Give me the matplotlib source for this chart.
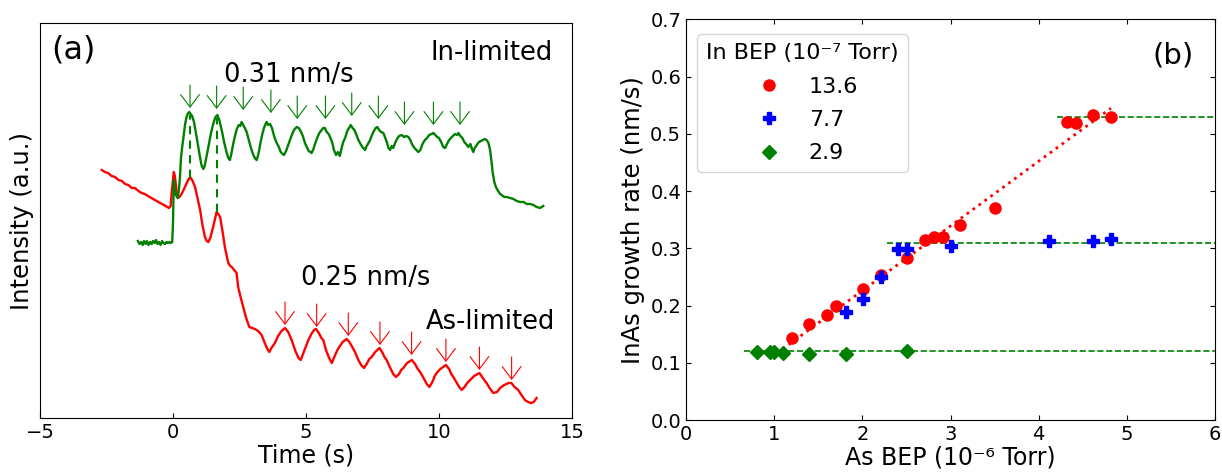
import matplotlib
matplotlib.use("Agg")
import matplotlib.pyplot as plt
import numpy as np

plt.rcParams['font.family'] = ['DejaVu Sans']

# ---------------- Panel (a) data: RHEED intensity traces ----------------
green_t = [-1.32, -1.26, -1.20, -1.14, -1.09, -1.03, -0.98, -0.92, -0.86, -0.80, -0.75, -0.69,
           -0.64, -0.58, -0.53, -0.47, -0.41, -0.36, -0.30, -0.24, -0.19, -0.13, -0.08, -0.03,
           0.00, 0.03, 0.08, 0.13, 0.18, 0.22, 0.26, 0.30, 0.35, 0.40, 0.45, 0.50, 0.55, 0.61,
           0.66, 0.72, 0.79, 0.85, 0.92, 1.00, 1.07, 1.14, 1.19, 1.25, 1.33, 1.42, 1.52, 1.60,
           1.67, 1.74, 1.83, 1.92, 2.02, 2.08, 2.14, 2.20, 2.27, 2.33, 2.40, 2.47, 2.53, 2.58,
           2.64, 2.70, 2.77, 2.85, 2.93, 3.02, 3.10, 3.15, 3.22, 3.28, 3.35, 3.42, 3.48, 3.52,
           3.58, 3.65, 3.72, 3.80, 3.88, 3.96, 4.05, 4.12, 4.17, 4.25, 4.33, 4.40, 4.48, 4.55,
           4.65, 4.73, 4.80, 4.88, 4.96, 5.03, 5.10, 5.16, 5.21, 5.28, 5.35, 5.42, 5.50, 5.59,
           5.65, 5.71, 5.78, 5.85, 5.92, 5.98, 6.05, 6.13, 6.20, 6.27, 6.34, 6.40, 6.47, 6.55,
           6.62, 6.68, 6.75, 6.82, 6.90, 6.97, 7.05, 7.12, 7.22, 7.28, 7.35, 7.41, 7.48, 7.55,
           7.62, 7.68, 7.75, 7.82, 7.91, 7.98, 8.05, 8.10, 8.16, 8.22, 8.28, 8.35, 8.42, 8.50,
           8.60, 8.68, 8.76, 8.85, 8.92, 9.00, 9.08, 9.15, 9.22, 9.30, 9.38, 9.47, 9.55, 9.63,
           9.72, 9.79, 9.86, 9.93, 10.00, 10.08, 10.16, 10.23, 10.30, 10.38, 10.45, 10.52,
           10.60, 10.68, 10.73, 10.80, 10.88, 10.95, 11.02, 11.10, 11.18, 11.24, 11.29, 11.34,
           11.42, 11.50, 11.58, 11.65, 11.72, 11.79, 11.86, 11.92, 11.98, 12.02, 12.08, 12.14,
           12.22, 12.30, 12.36, 12.45, 12.55, 12.67, 12.80, 12.92, 13.05, 13.18, 13.30, 13.42,
           13.55, 13.67, 13.80, 13.92]
green_I = [1.77, 1.74, 1.76, 1.73, 1.77, 1.74, 1.77, 1.73, 1.76, 1.74, 1.77, 1.75,
           1.78, 1.74, 1.76, 1.73, 1.77, 1.75, 1.74, 1.76, 1.75, 1.76, 1.75, 1.76,
           1.95, 2.38, 2.25, 2.22, 2.20, 2.28, 2.40, 2.60, 2.72, 2.82, 2.93, 3.00, 3.04, 3.06,
           3.04, 3.02, 2.96, 2.87, 2.76, 2.63, 2.53, 2.49, 2.52, 2.60, 2.71, 2.84, 2.95, 3.01,
           3.03, 2.98, 2.88, 2.76, 2.65, 2.60, 2.58, 2.65, 2.75, 2.82, 2.89, 2.93, 2.92, 2.96,
           2.93, 2.90, 2.86, 2.78, 2.70, 2.63, 2.59, 2.58, 2.65, 2.74, 2.83, 2.90, 2.94, 2.96,
           2.93, 2.94, 2.90, 2.82, 2.76, 2.72, 2.66, 2.64, 2.63, 2.67, 2.73, 2.78, 2.84, 2.88,
           2.91, 2.90, 2.87, 2.82, 2.75, 2.71, 2.67, 2.66, 2.65, 2.69, 2.75, 2.80, 2.85, 2.88,
           2.90, 2.90, 2.86, 2.84, 2.80, 2.76, 2.68, 2.63, 2.66, 2.62, 2.70, 2.76, 2.80, 2.87,
           2.90, 2.93, 2.90, 2.88, 2.83, 2.78, 2.74, 2.71, 2.68, 2.72, 2.75, 2.78, 2.83, 2.87,
           2.90, 2.91, 2.88, 2.86, 2.85, 2.80, 2.75, 2.70, 2.68, 2.72, 2.70, 2.75, 2.79, 2.82,
           2.83, 2.81, 2.82, 2.81, 2.78, 2.73, 2.70, 2.68, 2.66, 2.68, 2.74, 2.78, 2.80, 2.83,
           2.84, 2.85, 2.83, 2.81, 2.80, 2.76, 2.71, 2.70, 2.74, 2.78, 2.80, 2.82,
           2.84, 2.83, 2.85, 2.82, 2.80, 2.76, 2.74, 2.71, 2.74, 2.69, 2.66, 2.70,
           2.73, 2.76, 2.77, 2.78, 2.79, 2.78, 2.75, 2.68, 2.55, 2.45, 2.36, 2.31,
           2.27, 2.24, 2.23, 2.21, 2.21, 2.20, 2.19, 2.17, 2.16, 2.16, 2.14, 2.14,
           2.13, 2.11, 2.10, 2.12]

red_t = [-2.68, -2.56, -2.44, -2.31, -2.18, -2.05, -1.92, -1.80, -1.68, -1.55, -1.43, -1.30,
         -1.18, -1.06, -0.94, -0.81, -0.68, -0.55, -0.41, -0.28, -0.15, -0.09, -0.04, 0.03,
         0.07, 0.10, 0.14, 0.18, 0.24, 0.30, 0.38, 0.45, 0.55, 0.64, 0.72, 0.83, 0.92, 1.02,
         1.10, 1.20, 1.27, 1.33, 1.40, 1.48, 1.55, 1.64, 1.70, 1.77, 1.86, 1.95, 2.02, 2.08,
         2.15, 2.21, 2.30, 2.39, 2.45, 2.55, 2.64, 2.75, 2.87, 2.98, 3.08, 3.20, 3.33, 3.45,
         3.55, 3.62, 3.70, 3.83, 3.95, 4.08, 4.21, 4.33, 4.46, 4.60, 4.72, 4.80, 4.90, 5.00,
         5.09, 5.20, 5.30, 5.38, 5.48, 5.58, 5.65, 5.75, 5.87, 5.97, 6.08, 6.18, 6.25, 6.38,
         6.53, 6.63, 6.74, 6.84, 6.95, 7.07, 7.18, 7.28, 7.38, 7.47, 7.60, 7.76, 7.86, 7.95,
         8.03, 8.15, 8.28, 8.38, 8.50, 8.58, 8.66, 8.80, 8.98, 9.10, 9.20, 9.29, 9.42, 9.54,
         9.64, 9.75, 9.84, 9.91, 10.05, 10.26, 10.38, 10.46, 10.54, 10.65, 10.76, 10.85,
         10.96, 11.06, 11.17, 11.32, 11.52, 11.62, 11.70, 11.79, 11.90, 12.04, 12.18, 12.30,
         12.45, 12.62, 12.72, 12.84, 12.98, 13.10, 13.23, 13.35, 13.45, 13.56, 13.67]
red_I = [2.48, 2.46, 2.45, 2.42, 2.41, 2.38, 2.37, 2.34, 2.33, 2.30, 2.30, 2.27,
         2.25, 2.24, 2.22, 2.20, 2.18, 2.16, 2.14, 2.12, 2.10, 2.12, 2.28, 2.46,
         2.42, 2.35, 2.26, 2.20, 2.21, 2.23, 2.27, 2.31, 2.37, 2.41, 2.38, 2.31, 2.20, 2.08,
         1.94, 1.81, 1.77, 1.76, 1.80, 1.88, 1.96, 2.06, 2.04, 2.01, 1.87, 1.71, 1.62, 1.55,
         1.52, 1.51, 1.48, 1.45, 1.31, 1.20, 1.11, 1.00, 0.91, 0.90, 0.89, 0.87, 0.83, 0.75,
         0.69, 0.66, 0.70, 0.75, 0.82, 0.87, 0.90, 0.86, 0.78, 0.67, 0.60, 0.58, 0.65, 0.72,
         0.78, 0.84, 0.88, 0.89, 0.85, 0.80, 0.78, 0.68, 0.60, 0.55, 0.62, 0.68, 0.71, 0.76,
         0.79, 0.76, 0.71, 0.66, 0.59, 0.53, 0.50, 0.54, 0.59, 0.61, 0.66, 0.70, 0.66, 0.61,
         0.58, 0.51, 0.44, 0.41, 0.44, 0.48, 0.50, 0.55, 0.58, 0.54, 0.49, 0.46, 0.40, 0.34,
         0.31, 0.36, 0.42, 0.45, 0.49, 0.53, 0.49, 0.44, 0.41, 0.36, 0.31, 0.28,
         0.31, 0.35, 0.38, 0.42, 0.45, 0.41, 0.38, 0.35, 0.30, 0.25, 0.26, 0.30,
         0.33, 0.35, 0.35, 0.31, 0.28, 0.23, 0.18, 0.16, 0.15, 0.16, 0.20]

# arrow markers for oscillation maxima (time, tip intensity)
green_arrow_t = [0.64, 1.64, 2.64, 3.68, 4.67, 5.73, 6.72, 7.72, 8.70, 9.79, 10.79]
green_arrow_tip = [3.10, 3.09, 3.08, 3.05, 2.99, 2.99, 3.02, 2.99, 2.93, 2.93, 2.93]
red_arrow_t = [4.21, 5.40, 6.59, 7.78, 8.97, 10.26, 11.52, 12.73]
red_arrow_tip = [0.93, 0.91, 0.82, 0.73, 0.63, 0.56, 0.48, 0.38]
arrow_len = 0.23

# dashed guide lines linking first peaks (time, top intensity, bottom intensity)
guide_t = [0.64, 1.64]
guide_top = [3.03, 3.00]
guide_bottom = [2.40, 2.06]

# ---------------- Panel (b) data: growth rate vs As BEP ----------------
red_x = [1.20, 1.40, 1.60, 1.70, 2.01, 2.21, 2.51, 2.71, 2.81, 2.91, 3.11, 3.51, 4.32, 4.42, 4.62, 4.82]
red_y = [0.143, 0.168, 0.183, 0.200, 0.228, 0.253, 0.283, 0.314, 0.320, 0.320, 0.340, 0.371,
         0.520, 0.518, 0.532, 0.529]
blue_x = [1.81, 2.01, 2.21, 2.41, 2.51, 3.01, 4.12, 4.62, 4.82]
blue_y = [0.189, 0.212, 0.250, 0.298, 0.298, 0.304, 0.313, 0.313, 0.316]
green_x = [0.80, 0.95, 1.00, 1.10, 1.40, 1.81, 2.51]
green_y = [0.118, 0.118, 0.118, 0.117, 0.115, 0.116, 0.120]

series_labels = ['13.6', '7.7', '2.9']

plateau_level = [0.12, 0.31, 0.53]
plateau_start = [0.66, 2.28, 4.21]
fit_slope = 0.113
fit_intercept = 0.0
fit_range = [1.03, 4.82]

# ---------------- Figure ----------------
W, H = 1222, 476
fig = plt.figure(figsize=(W / 100, H / 100), dpi=100)
axa = fig.add_axes([40 / W, 1 - 418 / H, (572 - 40) / W, (418 - 23) / H])
axb = fig.add_axes([686 / W, 1 - 420 / H, (1215 - 686) / W, (420 - 19.3) / H])

# Panel (a)
axa.plot(red_t, red_I, color='red', lw=1.7)
axa.plot(green_t, green_I, color='green', lw=1.7)
for t, top, bot in zip(guide_t, guide_top, guide_bottom):
    axa.plot([t, t], [bot, top], color='green', lw=1.5, ls=(0, (4, 3)))
astyle = '->,head_length=0.6,head_width=0.45'
for t, tip in zip(green_arrow_t, green_arrow_tip):
    axa.annotate('', xy=(t, tip), xytext=(t, tip + arrow_len),
                 arrowprops=dict(arrowstyle=astyle, color='green', lw=0.8,
                                 mutation_scale=15, shrinkA=0, shrinkB=0))
for t, tip in zip(red_arrow_t, red_arrow_tip):
    axa.annotate('', xy=(t, tip), xytext=(t, tip + arrow_len),
                 arrowprops=dict(arrowstyle=astyle, color='red', lw=0.8,
                                 mutation_scale=15, shrinkA=0, shrinkB=0))

axa.text(-3.76, 3.68, '(a)', fontsize=23, ha='center', va='center')
axa.text(14.29, 3.65, 'In-limited', fontsize=18.5, ha='right', va='center')
axa.text(4.36, 3.43, '0.31 nm/s', fontsize=18.5, ha='center', va='center')
axa.text(7.26, 1.40, '0.25 nm/s', fontsize=18.5, ha='center', va='center')
axa.text(11.95, 0.96, 'As-limited', fontsize=18.5, ha='center', va='center')

axa.set_xlim(-5, 15)
axa.set_ylim(0, 3.95)
axa.set_xticks([-5, 0, 5, 10, 15])
axa.set_yticks([])
axa.tick_params(axis='x', direction='in', labelsize=14)
axa.set_xlabel('Time (s)', fontsize=17, labelpad=1)
axa.set_ylabel('Intensity (a.u.)', fontsize=17.5, labelpad=4)

# Panel (b)
for lvl, x0 in zip(plateau_level, plateau_start):
    axb.plot([x0, 6], [lvl, lvl], color='green', lw=1.2, ls='--')
fx = np.array(fit_range)
axb.plot(fx, fit_slope * fx + fit_intercept, color='red', lw=2, ls=':')
axb.plot(red_x, red_y, 'o', color='red', ms=8, ls='none', label=series_labels[0])
axb.plot(blue_x, blue_y, 'P', color='blue', ms=8, ls='none', label=series_labels[1])
axb.plot(green_x, green_y, 'D', color='green', ms=7, ls='none', label=series_labels[2])

axb.text(0.92, 0.91, '(b)', fontsize=21, ha='center', va='center', transform=axb.transAxes)
axb.set_xlim(0, 6)
axb.set_ylim(0, 0.7)
axb.set_xticks(range(0, 7))
axb.set_yticks(np.arange(0, 0.71, 0.1))
axb.tick_params(direction='in', top=True, right=True, labelsize=14)
axb.set_xlabel('As BEP (10⁻⁶ Torr)', fontsize=17, labelpad=1)
axb.set_ylabel('InAs growth rate (nm/s)', fontsize=17.5, labelpad=4)
axb.legend(title='In BEP (10⁻⁷ Torr)', fontsize=16, title_fontsize=16,
           loc='upper left', bbox_to_anchor=(0.0, 0.99), numpoints=1, labelspacing=0.6)

fig.savefig('out.png', dpi=100)
